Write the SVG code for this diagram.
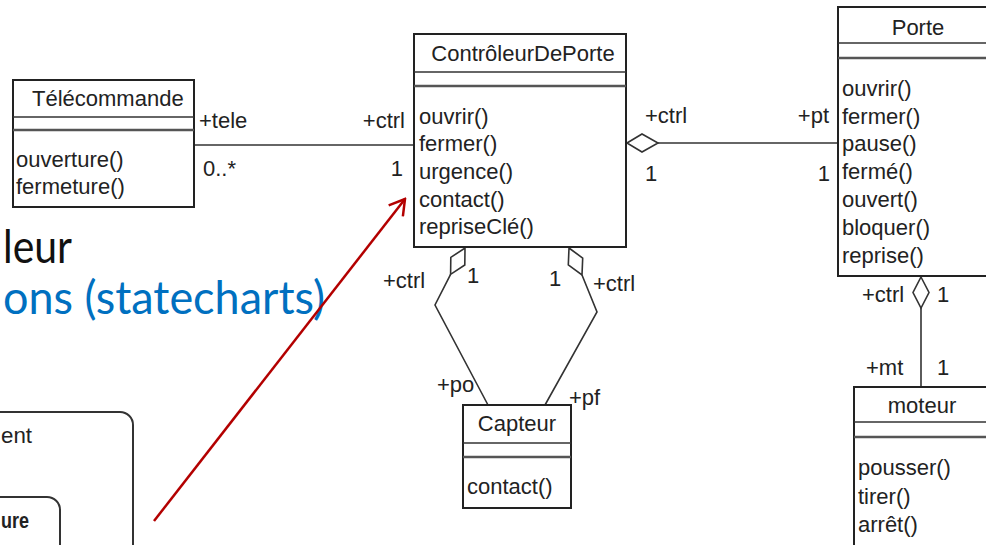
<svg xmlns="http://www.w3.org/2000/svg" width="986" height="545" viewBox="0 0 986 545">
  <defs>
    <style>
      .box { fill: #fff; stroke: #222; stroke-width: 2; }
      .sep { stroke: #333; stroke-width: 1.5; }
      .sep2 { stroke: #555; stroke-width: 2.5; }
      .t { font-family: "Liberation Sans", Arial, sans-serif; font-size: 22px; fill: #222; }
      .mid { text-anchor: middle; }
      .end { text-anchor: end; }
      .conn { fill: none; stroke: #333; stroke-width: 1.6; }
      .dia { fill: #fff; stroke: #333; stroke-width: 1.6; stroke-linejoin: miter; }
      .slide { font-family: Lato, "Open Sans", sans-serif; font-size: 46px; }
      .state { fill: none; stroke: #333; stroke-width: 2; }
    </style>
    <marker id="openArrow" viewBox="0 0 20 20" markerWidth="20" markerHeight="20" refX="18" refY="10" orient="auto" markerUnits="userSpaceOnUse">
      <path d="M3,1 L18,10 L3,19" fill="none" stroke="#b30000" stroke-width="2.5"/>
    </marker>
  </defs>

  <rect width="986" height="545" fill="#fff"/>

  <!-- slide text behind the class diagram -->
  <text class="slide" x="3" y="263" fill="#111" textLength="69" lengthAdjust="spacingAndGlyphs">leur</text>
  <text class="slide" x="3" y="314" fill="#0070c0" textLength="322" lengthAdjust="spacingAndGlyphs">ons (statecharts)</text>

  <!-- partial statechart, bottom left -->
  <g id="statechart">
    <path class="state" d="M-10,412 H120 A13,13 0 0 1 133,425 V560"/>
    <path class="state" d="M-10,497 H47 A13,13 0 0 1 60,510 V560"/>
    <text class="t" x="1" y="443" textLength="31" lengthAdjust="spacingAndGlyphs">ent</text>
    <text class="t" x="1" y="528" font-weight="bold" textLength="28" lengthAdjust="spacingAndGlyphs">ure</text>
  </g>

  <!-- associations between classes -->
  <g id="connectors">
    <!-- Télécommande - ContrôleurDePorte -->
    <line class="conn" x1="194" y1="145" x2="414" y2="145"/>
    <text class="t" x="199" y="128">+tele</text>
    <text class="t end" x="405" y="128">+ctrl</text>
    <text class="t" x="203" y="176">0..*</text>
    <text class="t end" x="403" y="176">1</text>

    <!-- ContrôleurDePorte <>- Porte -->
    <line class="conn" x1="658" y1="143" x2="838" y2="143"/>
    <polygon class="dia" points="627,143 642,134 658,143 642,152"/>
    <text class="t" x="645" y="123">+ctrl</text>
    <text class="t" x="645" y="181">1</text>
    <text class="t end" x="829" y="123">+pt</text>
    <text class="t end" x="830" y="181">1</text>

    <!-- ContrôleurDePorte <>- Capteur (po) -->
    <polyline class="conn" points="450.6,274.3 435,305 488,405"/>
    <polygon class="dia" points="465,248 464.8,265 450.6,274.3 450.8,257.4"/>
    <text class="t" x="383" y="288">+ctrl</text>
    <text class="t" x="467" y="283">1</text>
    <text class="t" x="437" y="392">+po</text>

    <!-- ContrôleurDePorte <>- Capteur (pf) -->
    <polyline class="conn" points="582,275 597,312 545,405"/>
    <polygon class="dia" points="569,248 582.7,258.1 582,275 568.3,264.9"/>
    <text class="t" x="549" y="286">1</text>
    <text class="t" x="593" y="291">+ctrl</text>
    <text class="t" x="569" y="405">+pf</text>

    <!-- Porte <>- moteur -->
    <line class="conn" x1="921" y1="308" x2="921" y2="387"/>
    <polygon class="dia" points="921,277 929,292.5 921,308 913,292.5"/>
    <text class="t" x="862" y="302">+ctrl</text>
    <text class="t" x="937" y="302">1</text>
    <text class="t" x="866" y="375">+mt</text>
    <text class="t" x="937" y="375">1</text>
  </g>

  <g id="telecommande">
    <rect class="box" x="13" y="80" width="181" height="127"/>
    <line class="sep" x1="13" y1="117" x2="194" y2="117"/>
    <line class="sep2" x1="13" y1="130" x2="194" y2="130"/>
    <text class="t" x="32" y="106">Télécommande</text>
    <text class="t" x="16" y="167">ouverture()</text>
    <text class="t" x="16" y="194">fermeture()</text>
  </g>

  <g id="controleur">
    <rect class="box" x="414" y="34" width="212" height="213"/>
    <line class="sep" x1="414" y1="72" x2="626" y2="72"/>
    <line class="sep2" x1="414" y1="86" x2="626" y2="86"/>
    <text class="t mid" x="523" y="61">ContrôleurDePorte</text>
    <text class="t" x="419" y="124">ouvrir()</text>
    <text class="t" x="419" y="151">fermer()</text>
    <text class="t" x="419" y="179">urgence()</text>
    <text class="t" x="419" y="207">contact()</text>
    <text class="t" x="419" y="234">repriseClé()</text>
  </g>

  <g id="porte">
    <rect class="box" x="838" y="7" width="160" height="269"/>
    <line class="sep" x1="838" y1="43" x2="998" y2="43"/>
    <line class="sep2" x1="838" y1="58" x2="998" y2="58"/>
    <text class="t mid" x="918" y="35">Porte</text>
    <text class="t" x="842" y="96">ouvrir()</text>
    <text class="t" x="842" y="124">fermer()</text>
    <text class="t" x="842" y="151">pause()</text>
    <text class="t" x="842" y="179">fermé()</text>
    <text class="t" x="842" y="207">ouvert()</text>
    <text class="t" x="842" y="235">bloquer()</text>
    <text class="t" x="842" y="263">reprise()</text>
  </g>

  <g id="capteur">
    <rect class="box" x="463" y="405" width="108" height="103"/>
    <line class="sep" x1="463" y1="443" x2="571" y2="443"/>
    <line class="sep2" x1="463" y1="457" x2="571" y2="457"/>
    <text class="t mid" x="517" y="431">Capteur</text>
    <text class="t" x="467" y="494">contact()</text>
  </g>

  <g id="moteur">
    <rect class="box" x="854" y="387" width="140" height="170"/>
    <line class="sep" x1="854" y1="422" x2="994" y2="422"/>
    <line class="sep2" x1="854" y1="437" x2="994" y2="437"/>
    <text class="t mid" x="922" y="413">moteur</text>
    <text class="t" x="858" y="475">pousser()</text>
    <text class="t" x="858" y="504">tirer()</text>
    <text class="t" x="858" y="532">arrêt()</text>
  </g>

  <!-- red pointer onto the controller class -->
  <line x1="154" y1="521" x2="405" y2="199" stroke="#b30000" stroke-width="2.5" marker-end="url(#openArrow)"/>
</svg>
